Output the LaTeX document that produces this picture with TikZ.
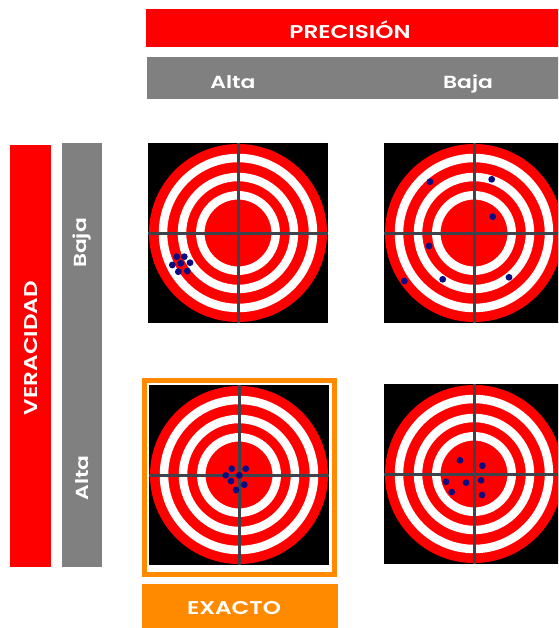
\documentclass[tikz,border=0pt]{standalone}
\usepackage{graphicx}
\usepackage{fontspec}
\setmainfont{Poppins}[BoldFont={Poppins SemiBold}]
\definecolor{tred}{RGB}{255,0,0}
\definecolor{tgray}{RGB}{128,128,128}
\definecolor{torange}{RGB}{255,138,0}
\definecolor{cross}{RGB}{62,66,74}
\definecolor{dotc}{RGB}{12,12,128}
\newcommand\widetxt[1]{\scalebox{1.25}[1]{#1}}
\tikzset{
  lbl/.style={text=white,font=\bfseries\fontsize{17.5}{20}\selectfont,inner sep=0pt},
  biglbl/.style={text=white,font=\bfseries\fontsize{18.5}{21}\selectfont,inner sep=0pt},
  hit/.style={fill=dotc},
  target/.pic={
    \fill[black] (-90,-90) rectangle (90,90);
    \fill[tred] (0,0) circle[radius=89];
    \draw[white,line width=8.5pt] (0,0) circle[radius=75];
    \draw[white,line width=8.5pt] (0,0) circle[radius=56];
    \draw[white,line width=8.5pt] (0,0) circle[radius=37.7];
    \draw[cross,line width=3pt] (-90,0) -- (90,0);
    \draw[cross,line width=3pt] (0,-90) -- (0,90);
  }
}
\begin{document}
\begin{tikzpicture}[x=1pt,y=-1pt]
\useasboundingbox (0,0) rectangle (558,628);
\clip (0,0) rectangle (558,628);
% top bars
\fill[tred] (146,9) rectangle (570,47);
\node[biglbl,anchor=base] (prec) at (350,38.5) {\widetxt{PRECISIÓN}};
\fill[tgray] (147,57) rectangle (570,99);
\node[lbl,anchor=base] (palta) at (233,89) {\widetxt{Alta}};
\node[lbl,anchor=base] (pbaja) at (468,89) {\widetxt{Baja}};
% left bars
\fill[tred] (10,145) rectangle (51,567);
\node[biglbl,rotate=90] (ver) at (31,348) {\widetxt{VERACIDAD}};
\fill[tgray] (62,143) rectangle (102,567);
\node[lbl,rotate=90] (vbaja) at (82,243) {\widetxt{Baja}};
\node[lbl,rotate=90] (valta) at (82,478) {\widetxt{Alta}};
% targets
\pic at (238,233) {target};
\pic at (474,233) {target};
\pic at (239,475) {target};
\pic at (474,474) {target};
% hits
\foreach \p in {(176.7,256.7),(184.3,256.7),(172.3,265),(180.7,263.3),(190,262.7),(178.3,271.7),(187.3,271)}
  \fill[hit] \p circle[radius=3.4];
\foreach \p in {(430,181.7),(491.7,179.3),(492.7,216.7),(429,246),(404.3,281),(442.7,279.3),(509,277.3)}
  \fill[hit] \p circle[radius=3.4];
\foreach \p in {(231.7,468.7),(245.7,468.7),(225.7,475.3),(239.3,475.3),(231,481),(244.3,484.7),(236,490)}
  \fill[hit] \p circle[radius=3.4];
\foreach \p in {(460,460.3),(482.3,465.7),(446,481.7),(466,482.7),(481,480.3),(451.7,492),(482,495)}
  \fill[hit] \p circle[radius=3.4];
% exacto frame and label
\draw[torange,line width=5pt] (144.5,380.5) rectangle (334.5,574.5);
\fill[torange] (142,584) rectangle (338,635);
\node[biglbl,anchor=base] (exacto) at (234,614) {\widetxt{EXACTO}};
\end{tikzpicture}
\end{document}
